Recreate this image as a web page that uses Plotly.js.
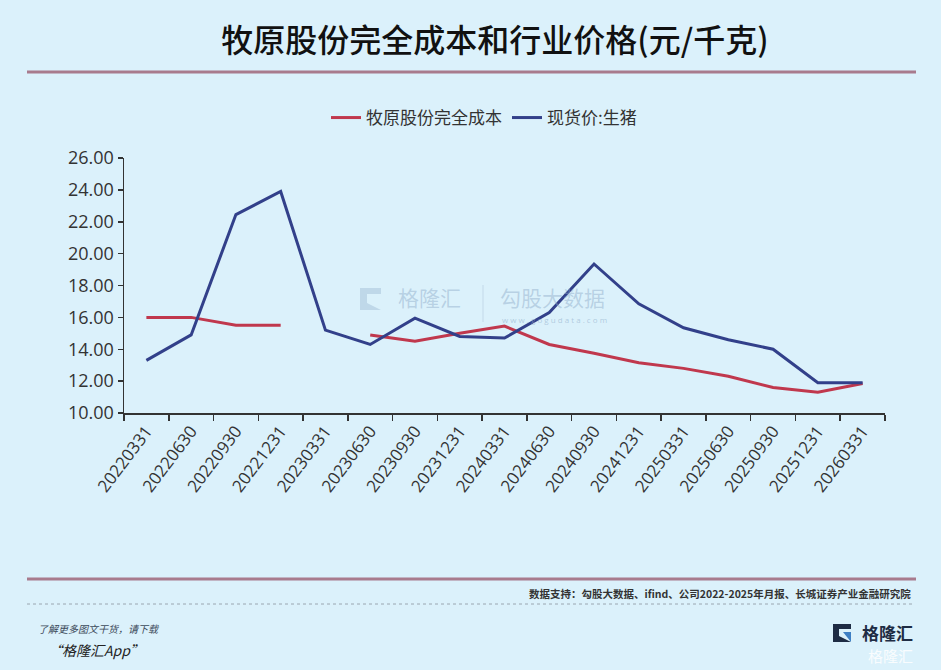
<!DOCTYPE html>
<html>
<head>
<meta charset="utf-8">
<script src="https://cdn.plot.ly/plotly-3.0.1.min.js"></script>
<style>
  html, body { margin: 0; padding: 0; background: #dbf1fb; }
  #chart { width: 941px; height: 670px; }
</style>
</head>
<body>
<div id="chart"></div>
<script>
// Report dates (quarter ends)
var quarters = [
  "20220331", "20220630", "20220930", "20221231",
  "20230331", "20230630", "20230930", "20231231",
  "20240331", "20240630", "20240930", "20241231",
  "20250331", "20250630", "20250930", "20251231", "20260331"
];

// 牧原股份完全成本 (元/千克), gap at 20230331
var fullCost = [
  16.0, 16.0, 15.5, 15.5,
  null, 14.9, 14.5, 15.0,
  15.45, 14.3, 13.75, 13.15,
  12.8, 12.3, 11.6, 11.3, 11.85
];

// 现货价:生猪 (元/千克)
var spotPrice = [
  13.3, 14.9, 22.45, 23.9,
  15.2, 14.3, 15.95, 14.8,
  14.7, 16.3, 19.35, 16.85,
  15.35, 14.6, 14.0, 11.9, 11.9
];

var yTicks = [10, 12, 14, 16, 18, 20, 22, 24, 26];

var cjk = '"Noto Sans CJK SC", "Noto Sans", sans-serif';
var tickFont = '"Open Sans", "Noto Sans CJK SC", sans-serif';

var chartDiv = document.getElementById("chart");

var costTrace = {
  x: quarters,
  y: fullCost,
  name: "牧原股份完全成本",
  mode: "lines",
  type: "scatter",
  line: { color: "#c0384d", width: 3 },
  connectgaps: false,
};

var spotTrace = {
  x: quarters,
  y: spotPrice,
  name: "现货价:生猪",
  mode: "lines",
  type: "scatter",
  line: { color: "#32408a", width: 3 },
};

// helpers: plot area is 761 x 255 px starting at (124, 158)
function px(x) { return (x - 124) / 761; }
function py(y) { return (413 - y) / 255; }

var shapes = [
  // header rule
  { type: "line", xref: "paper", yref: "paper",
    x0: px(27), x1: px(916), y0: py(72), y1: py(72),
    line: { color: "#a87b8d", width: 3 } },
  // footer rule
  { type: "line", xref: "paper", yref: "paper",
    x0: px(27), x1: px(916), y0: py(579), y1: py(579),
    line: { color: "#a87b8d", width: 3 } },
  // dotted rule under the source
  { type: "line", xref: "paper", yref: "paper",
    x0: px(27), x1: px(913), y0: py(604), y1: py(604),
    line: { color: "#9aa6b0", width: 1, dash: "dot" } },
  // watermark divider
  { type: "line", xref: "paper", yref: "paper",
    x0: px(483), x1: px(483), y0: py(285), y1: py(322),
    line: { color: "rgba(150,175,200,0.35)", width: 1 } },
  // watermark icon
  { type: "path", xref: "paper", yref: "paper",
    path: "M " + px(360) + "," + py(288) + " L " + px(381) + "," + py(288) +
          " L " + px(381) + "," + py(294) + " L " + px(367) + "," + py(294) +
          " L " + px(367) + "," + py(303) + " L " + px(381) + "," + py(310) +
          " L " + px(360) + "," + py(310) + " Z",
    fillcolor: "rgba(140,170,200,0.35)", line: { width: 0 } },
  // logo icon
  { type: "path", xref: "paper", yref: "paper",
    path: "M " + px(833) + "," + py(624) + " L " + px(851) + "," + py(624) +
          " L " + px(851) + "," + py(629) + " L " + px(839) + "," + py(629) +
          " L " + px(839) + "," + py(636) + " L " + px(851) + "," + py(642) +
          " L " + px(833) + "," + py(642) + " Z",
    fillcolor: "#1e2c44", line: { width: 0 } },
  { type: "path", xref: "paper", yref: "paper",
    path: "M " + px(843) + "," + py(632) + " L " + px(851) + "," + py(632) +
          " L " + px(851) + "," + py(642) + " Z",
    fillcolor: "#3d7fc4", line: { width: 0 } },
];

var annotations = [
  // watermark
  { text: "格隆汇", xref: "paper", yref: "paper", x: px(396), y: py(297),
    xanchor: "left", yanchor: "middle", showarrow: false,
    font: { family: cjk, size: 21, color: "rgba(140,170,200,0.45)" } },
  { text: "勾股大数据", xref: "paper", yref: "paper", x: px(498), y: py(297),
    xanchor: "left", yanchor: "middle", showarrow: false,
    font: { family: cjk, size: 21, color: "rgba(140,170,200,0.45)" } },
  { text: "w w w . g o g u d a t a . c o m", xref: "paper", yref: "paper",
    x: px(500), y: py(319), xanchor: "left", yanchor: "middle", showarrow: false,
    font: { family: tickFont, size: 8, color: "rgba(140,170,200,0.55)" } },
  // source
  { text: "<b>数据支持：勾股大数据、ifind、公司2022-2025年月报、长城证券产业金融研究院</b>",
    xref: "paper", yref: "paper", x: px(913), y: py(593),
    xanchor: "right", yanchor: "middle", showarrow: false,
    font: { family: cjk, size: 10.5, color: "#333333" } },
  // app promo
  { text: "<i>了解更多图文干货，请下载</i>", xref: "paper", yref: "paper",
    x: px(36), y: py(628), xanchor: "left", yanchor: "middle", showarrow: false,
    font: { family: cjk, size: 10, color: "#3b4a5a" } },
  { text: "<i>“格隆汇App”</i>", xref: "paper", yref: "paper",
    x: px(46), y: py(650), xanchor: "left", yanchor: "middle", showarrow: false,
    font: { family: cjk, size: 14, color: "#222222" } },
  // logo text
  { text: "<b>格隆汇</b>", xref: "paper", yref: "paper",
    x: px(860), y: py(632), xanchor: "left", yanchor: "middle", showarrow: false,
    font: { family: cjk, size: 17, color: "#1e2c44" } },
  { text: "格隆汇", xref: "paper", yref: "paper",
    x: px(866), y: py(655), xanchor: "left", yanchor: "middle", showarrow: false,
    font: { family: cjk, size: 15, color: "rgba(255,255,255,0.85)" } },
];

var layout = {
  width: 941,
  height: 670,
  margin: { t: 158, b: 257, l: 124, r: 56, pad: 0 },
  paper_bgcolor: "#dbf1fb",
  plot_bgcolor: "#dbf1fb",
  font: { family: cjk, color: "#333333" },
  title: {
    text: "牧原股份完全成本和行业价格(元/千克)",
    x: px(495),
    xanchor: "center",
    xref: "paper",
    y: 1 - 41 / 670,
    yanchor: "middle",
    yref: "container",
    font: { family: cjk, size: 32, color: "#111111", weight: 500 },
  },
  showlegend: true,
  legend: {
    orientation: "h",
    x: px(484),
    xanchor: "center",
    y: py(118),
    yanchor: "middle",
    bgcolor: "rgba(0,0,0,0)",
    font: { family: cjk, size: 17, color: "#333333" },
    itemwidth: 30,
    traceorder: "normal",
  },
  xaxis: {
    type: "category",
    tickson: "boundaries",
    ticks: "outside",
    ticklen: 6,
    tickwidth: 1.5,
    tickcolor: "#333333",
    showline: true,
    linecolor: "#333333",
    linewidth: 1.5,
    showgrid: false,
    zeroline: false,
    tickangle: -53,
    tickfont: { family: tickFont, size: 17, color: "#333333" },
    range: [-0.5, quarters.length - 0.5],
    fixedrange: true,
  },
  yaxis: {
    range: [10, 26],
    tickvals: yTicks,
    ticktext: yTicks.map(function (v) { return v.toFixed(2); }),
    ticks: "outside",
    ticklen: 5,
    tickwidth: 1.5,
    tickcolor: "#333333",
    showline: true,
    linecolor: "#333333",
    linewidth: 1.5,
    showgrid: false,
    zeroline: false,
    tickfont: { family: tickFont, size: 18, color: "#333333" },
    fixedrange: true,
  },
  shapes: shapes,
  annotations: annotations,
};

var config = { staticPlot: true, displayModeBar: false };

Plotly.newPlot(chartDiv, [costTrace, spotTrace], layout, config);
</script>
</body>
</html>
